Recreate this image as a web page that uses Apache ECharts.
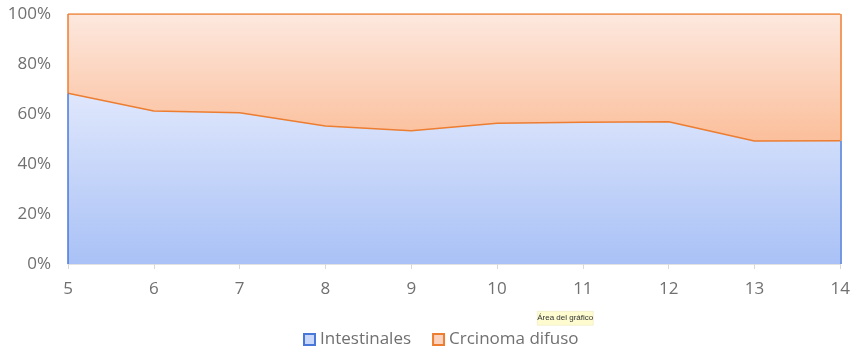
<!DOCTYPE html>
<html><head><meta charset="utf-8">
<script src="https://cdn.jsdelivr.net/npm/echarts@6/dist/echarts.min.js"></script>
<style>html,body{margin:0;padding:0;background:#fff}#c{width:853px;height:347px}</style>
</head><body><div id="c"></div>
<script>
const categories = ['5','6','7','8','9','10','11','12','13','14'];
const intestinales = [68.3, 61.2, 60.5, 55.2, 53.3, 56.3, 56.7, 56.9, 49.2, 49.3];
const difuso = [31.7, 38.8, 39.5, 44.8, 46.7, 43.7, 43.3, 43.1, 50.8, 50.7];
const yTicks = [0, 20, 40, 60, 80, 100];

const chart = echarts.init(document.getElementById('c'));
const txt = '#707070';
const last = categories.length - 1;
chart.setOption({
  animation: false,
  grid: {left: 68, right: 9, top: 14, bottom: 83},
  xAxis: {
    type: 'category', data: categories, boundaryGap: false,
    axisLine: {show: true, lineStyle: {color: '#d9d9d9', width: 1.5}},
    axisTick: {show: true, alignWithLabel: true, length: 5, lineStyle: {color: '#d9d9d9'}},
    axisLabel: {color: txt, fontSize: 17, fontFamily: 'Open Sans', margin: 17}
  },
  yAxis: {
    type: 'value', min: yTicks[0], max: yTicks[yTicks.length-1], interval: 20,
    axisLine: {show: false}, axisTick: {show: false}, splitLine: {show: false},
    axisLabel: {color: txt, fontSize: 17, fontFamily: 'Open Sans', margin: 17, formatter: v => v + '%'}
  },
  legend: {
    left: 298, top: 326, itemWidth: 11, itemHeight: 11, itemGap: 21,
    icon: 'rect',
    textStyle: {color: txt, fontSize: 17, fontFamily: 'Open Sans', padding: [0,0,0,0]},
    data: ['Intestinales', 'Crcinoma difuso']
  },
  series: [
    {
      name: 'Intestinales', type: 'line', stack: 't', data: intestinales,
      symbol: 'none', z: 3,
      lineStyle: {color: '#ed7d31', width: 1.5},
      itemStyle: {color: '#c9d7fa', borderColor: '#4a78d8', borderWidth: 1},
      areaStyle: {opacity: 1, color: new echarts.graphic.LinearGradient(0,0,0,1,[
        {offset: 0, color: '#dfe7fc'}, {offset: 1, color: '#a9c1f6'}])},
      markLine: {
        symbol: 'none', silent: true, label: {show: false},
        lineStyle: {color: '#4a78d8', width: 1.5, type: 'solid'},
        data: [
          [{coord: [categories[0], 0]}, {coord: [categories[0], intestinales[0]]}],
          [{coord: [categories[last], 0]}, {coord: [categories[last], intestinales[last]]}]
        ]
      }
    },
    {
      name: 'Crcinoma difuso', type: 'line', stack: 't', data: difuso,
      symbol: 'none', z: 2,
      lineStyle: {color: '#ed7d31', width: 1.5},
      itemStyle: {color: '#fbd2bd', borderColor: '#ed7d31', borderWidth: 1},
      areaStyle: {opacity: 1, color: new echarts.graphic.LinearGradient(0,0,0,1,[
        {offset: 0, color: '#fde8df'}, {offset: 1, color: '#fbbf9b'}])},
      markLine: {
        symbol: 'none', silent: true, label: {show: false},
        lineStyle: {color: '#ed7d31', width: 1.5, type: 'solid'},
        data: [
          [{coord: [categories[0], intestinales[0]]}, {coord: [categories[0], 100]}],
          [{coord: [categories[last], intestinales[last]]}, {coord: [categories[last], 100]}]
        ]
      }
    }
  ],
  graphic: [{
    type: 'group', left: 537, top: 311,
    children: [
      {type: 'rect', shape: {x: 0, y: 0, width: 56, height: 14}, style: {fill: '#fdfbcf', stroke: '#e8e6b8', lineWidth: 0.5}},
      {type: 'text', style: {x: 28, y: 7, text: 'Área del gráfico', fontSize: 8, fontFamily: 'Liberation Sans', fill: '#333', align: 'center', verticalAlign: 'middle'}}
    ]
  }]
});
</script></body></html>
